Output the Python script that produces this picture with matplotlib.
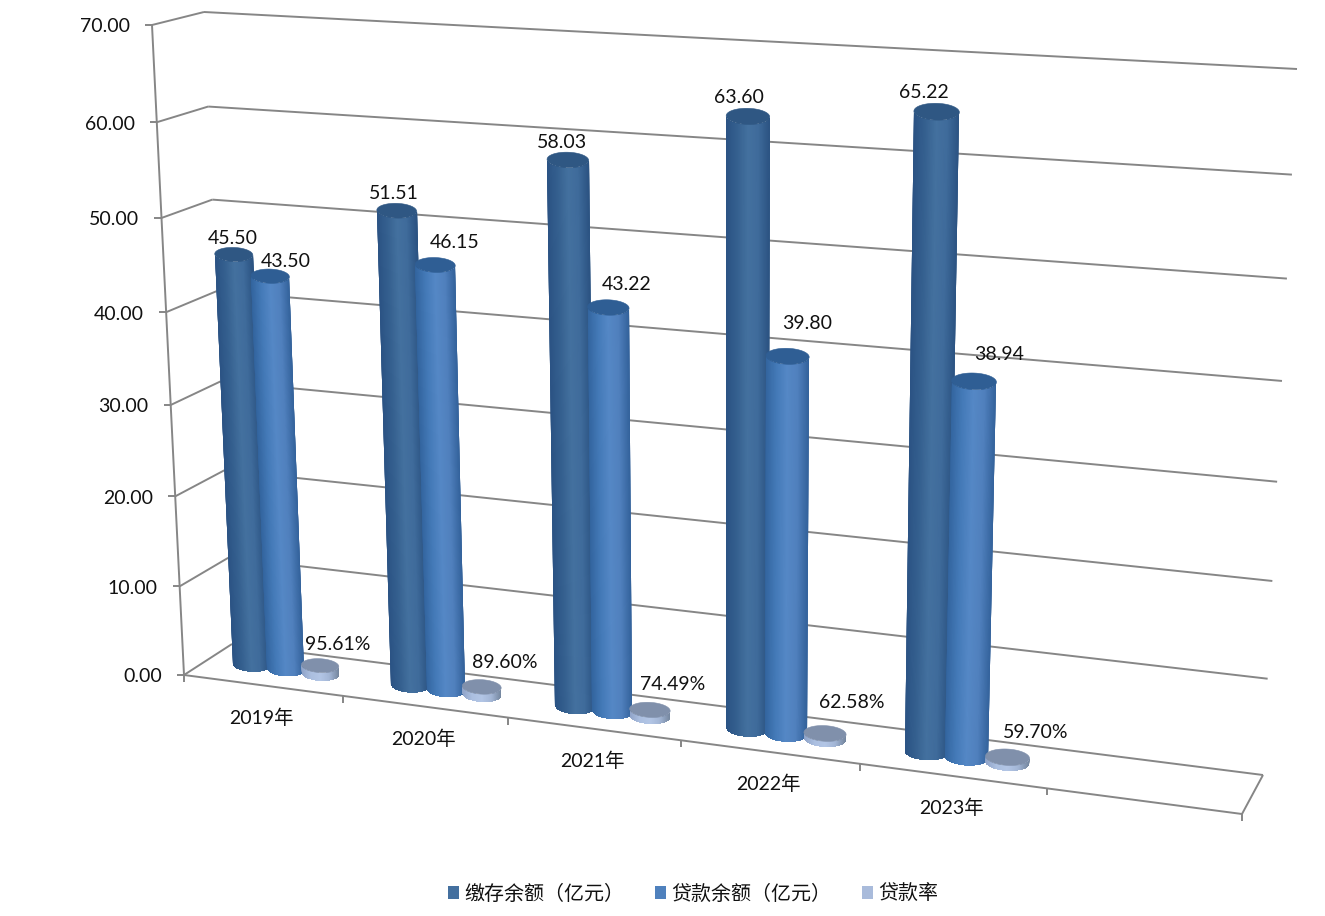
import numpy as np
import matplotlib
matplotlib.use("Agg")
import matplotlib.pyplot as plt
from matplotlib.colors import LinearSegmentedColormap
from matplotlib.patches import Polygon, Patch

# ---------- data ----------
categories = ["2019年", "2020年", "2021年", "2022年", "2023年"]
deposit = [45.50, 51.51, 58.03, 63.60, 65.22]
loans = [43.50, 46.15, 43.22, 39.80, 38.94]
loan_rate = [0.9561, 0.8960, 0.7449, 0.6258, 0.5970]
loan_rate_labels = ["95.61%", "89.60%", "74.49%", "62.58%", "59.70%"]
series_names = ["缴存余额（亿元）", "贷款余额（亿元）", "贷款率"]
y_ticks = [0, 10, 20, 30, 40, 50, 60, 70]

# ---------- style / layout ----------
W, H = 1325, 916
FONT = ["Lato", "Noto Sans CJK SC", "DejaVu Sans"]
plt.rcParams["font.family"] = FONT
GRID = "#868686"
TXT = "#111111"
TICK_DY = 2   # optical centring of the value-axis labels
LABEL_DY = 6  # optical centring of data and category labels
legend_colors = ["#44709f", "#4f81bd", "#a9bbdb"]
side_stops = [
    ["#2b5384", "#35608f", "#44719f", "#3f6b9b", "#2c5483"],
    ["#33659f", "#447ab8", "#5588c6", "#5080bd", "#34639c"],
    ["#8fa3c8", "#abbfe0", "#b3c6e6", "#a3b6d6", "#75879f"],
]
top_colors = ["#2f5783", "#2f5e94", "#8090ab"]
cmaps = [LinearSegmentedColormap.from_list(f"s{i}", s) for i, s in enumerate(side_stops)]

N_SLOTS = 6          # the axis has one empty slot after the last year
Z_MAX = 70.0
BAR_STEP = 0.22      # slot fraction between neighbouring cylinders
BAR_HALF = 0.118     # half width of a cylinder in slot units
ELLIPSE = 0.37       # ellipse minor / major
TILT = 0.4           # share of the axis slope kept by the ellipses
DEPTH = 0.5

# offsets of value labels from the cylinder top (pixels)
deposit_off = [(-1, -22), (-3, -23), (-6, -23), (-9, -25), (-13, -25)]
loans_off = [(16, -21), (19, -28), (18, -29), (20, -39), (25, -33)]
rate_off = [(18, -27), (23, -30), (23, -31), (27, -37), (28, -31)]

# ---------- scale (slot fraction, depth, value) -> figure pixels ----------
# corners of the plot box: [u][depth][top]
BOX = np.array([
    [[(184, 675), (152, 25)], [(232, 644), (204, 12)]],
    [[(1242, 814), (1268, 95)], [(1263, 775), (1297, 69)]],
], float)
PERSP_U = 1.1306   # foreshortening along the category axis
PERSP_Z = 1.0555   # foreshortening along the value axis


def proj(u, d, z):
    up = u / (u + PERSP_U * (1 - u))
    zf = z / Z_MAX
    zp = zf / (zf + PERSP_Z * (1 - zf))
    out = np.zeros(2)
    for i, wu in enumerate((1 - up, up)):
        for j, wd in enumerate((1 - d, d)):
            for k, wz in enumerate((1 - zp, zp)):
                out += wu * wd * wz * BOX[i, j, k]
    return out


# ---------- figure ----------
fig = plt.figure(figsize=(W / 100, H / 100), dpi=100)
ax = fig.add_axes([0, 0, 1, 1])


def seg(a, b, lw=1.4, z=1):
    ax.plot([a[0], b[0]], [a[1], b[1]], color=GRID, lw=lw, solid_capstyle="butt", zorder=z)


# walls, floor and gridlines
for t in y_ticks:
    fl, bl, br = proj(0, 0, t), proj(0, 1, t), proj(1, 1, t)
    seg(fl, bl)
    seg(bl, br)
    seg(fl + np.array([-7, 0]), fl)
    ax.text(fl[0] - 22, fl[1] + TICK_DY, f"{t:.2f}", ha="right", va="center", fontsize=14, color=TXT, zorder=20)
seg(proj(0, 0, 0), proj(0, 0, Z_MAX))
seg(proj(0, 0, 0), proj(1, 0, 0))
seg(proj(1, 0, 0), proj(1, 1, 0))
for k in range(N_SLOTS + 1):
    p = proj(k / N_SLOTS, 0, 0)
    seg(p, p + np.array([0, 7]))

theta = np.linspace(0, np.pi, 91)
circle = np.linspace(0, 2 * np.pi, 121)
shade_t = np.linspace(-1.15, 1.15, 47)
zo = 5


def cylinder(slot, series, value):
    global zo
    uc = (slot + 0.5 + (series - 1) * BAR_STEP) / N_SLOTS
    du = BAR_HALF / N_SLOTS

    def frame(z):
        c = proj(uc, DEPTH, z)
        ex = (proj(uc + du, DEPTH, z) - proj(uc - du, DEPTH, z)) / 2
        ex = ex * np.array([1, TILT])
        return c, ex, np.array([0, ELLIPSE * np.hypot(*ex)])

    c0, ex0, ey0 = frame(0)
    c1, ex1, ey1 = frame(value)
    # outline of the visible side: front arc at the foot, back along the front arc at the top
    cs, sn = np.cos(theta)[:, None], np.sin(theta)[:, None]
    low = c0 + ex0 * cs + ey0 * sn
    upp = c1 + ex1 * cs + ey1 * sn
    outline = Polygon(np.vstack([low, upp[::-1]]), closed=True, transform=ax.transData)
    # shaded mesh, wider and longer than the outline and clipped to it
    axis_dir = (c1 - c0) / np.hypot(*(c1 - c0))
    t = shade_t[:, None]
    a = c0 + ex0 * t - 25 * axis_dir
    b = c1 + ex1 * t + 25 * axis_dir
    X = np.vstack([a[:, 0], b[:, 0]])
    Y = np.vstack([a[:, 1], b[:, 1]])
    C = np.tile((np.clip(shade_t, -1, 1) + 1) / 2, (2, 1))
    mesh = ax.pcolormesh(X, Y, C, shading="gouraud", cmap=cmaps[series], vmin=0, vmax=1, zorder=zo)
    mesh.set_clip_path(outline)
    top = [c1 + ex1 * np.cos(q) + ey1 * np.sin(q) for q in circle]
    ax.add_patch(Polygon(top, closed=True, facecolor=top_colors[series], edgecolor=top_colors[series],
                         linewidth=0.4, zorder=zo + 0.5))
    zo += 1
    return c1


label_kw = dict(ha="center", va="center", fontsize=14, color=TXT, zorder=30)
for i, name in enumerate(categories):
    c = cylinder(i, 0, deposit[i])
    ax.text(c[0] + deposit_off[i][0], c[1] + deposit_off[i][1] + LABEL_DY, f"{deposit[i]:.2f}", **label_kw)
    c = cylinder(i, 1, loans[i])
    ax.text(c[0] + loans_off[i][0], c[1] + loans_off[i][1] + LABEL_DY, f"{loans[i]:.2f}", **label_kw)
    c = cylinder(i, 2, loan_rate[i])
    ax.text(c[0] + rate_off[i][0], c[1] + rate_off[i][1] + LABEL_DY, loan_rate_labels[i], **label_kw)
    p = proj((i + 0.5) / N_SLOTS, 0, 0)
    ax.text(p[0] - 1, p[1] + 26 + LABEL_DY, name, ha="center", va="center", fontsize=14, color=TXT, zorder=30)

ax.set_xlim(0, W)
ax.set_ylim(H, 0)
ax.axis("off")

handles = [Patch(facecolor=c, edgecolor="none") for c in legend_colors]
ax.legend(handles, series_names, loc="center", bbox_to_anchor=(693 / W, 1 - 893 / H),
          ncol=3, frameon=False, fontsize=14.4, handlelength=0.55, handleheight=0.55,
          handletextpad=0.3, columnspacing=1.5, labelcolor=TXT, borderpad=0, borderaxespad=0)

fig.savefig("out.png", dpi=100, facecolor="white")
